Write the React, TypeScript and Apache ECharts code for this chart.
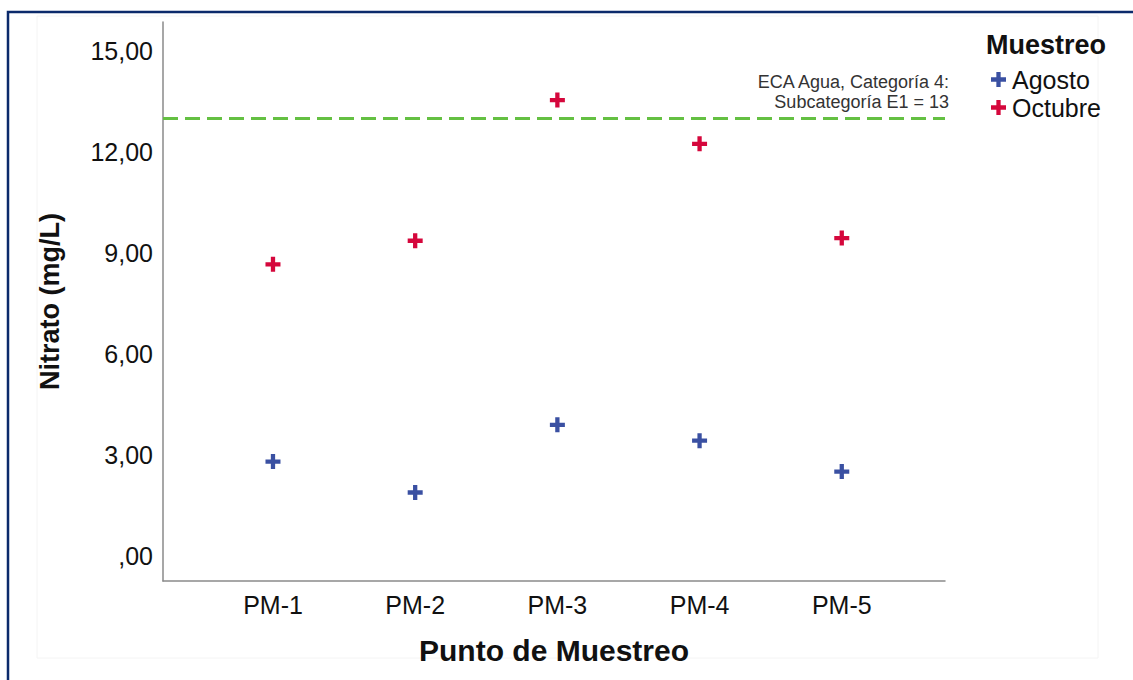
import React, { useEffect, useRef } from "react";
import * as echarts from "echarts";

const categories = ["PM-1", "PM-2", "PM-3", "PM-4", "PM-5"];
const agosto = [2.8, 1.88, 3.89, 3.42, 2.5];
const octubre = [8.66, 9.36, 13.54, 12.24, 9.44];
const yTicks = [0, 3, 6, 9, 12, 15];
const ecaLimit = 13;
const ecaLabel = "ECA Agua, Categoría 4:\nSubcategoría E1 = 13";

const PLUS = "path://M5,0H9V5H14V9H9V14H5V9H0V5H5Z";
const FONT = "Liberation Sans, Arial, sans-serif";

function fmtY(v: number) {
  const s = v.toFixed(2).replace(".", ",");
  return v === 0 ? ",00" : s;
}

export default function App() {
  const ref = useRef<HTMLDivElement>(null);
  useEffect(() => {
    if (!ref.current) return;
    const chart = echarts.init(ref.current, null, { renderer: "svg" });
    chart.setOption({
      animation: false,
      backgroundColor: "#ffffff",
      textStyle: { fontFamily: FONT },
      title: {
        text: "Muestreo",
        left: 981,
        top: 26,
        textStyle: { fontFamily: FONT, fontSize: 27, fontWeight: "bold", color: "#111" },
      },
      legend: {
        orient: "vertical",
        left: 986,
        top: 62,
        itemGap: 3,
        itemWidth: 15,
        itemHeight: 15,
        textStyle: { fontFamily: FONT, fontSize: 25, color: "#111", padding: [0, 0, 0, 1] },
        data: [
          { name: "Agosto", icon: PLUS },
          { name: "Octubre", icon: PLUS },
        ],
      },
      graphic: [
        {
          type: "rect",
          silent: true,
          shape: { x: 37, y: 16, width: 1061, height: 642 },
          style: { fill: "none", stroke: "#f4f4f4", lineWidth: 1 },
        },
        {
          type: "rect",
          silent: true,
          shape: { x: 8, y: 12, width: 1200, height: 720 },
          style: { fill: "none", stroke: "#0b2a6b", lineWidth: 2.5 },
        },
      ],
      grid: {
        left: 163,
        right: 188,
        top: 22,
        bottom: 99,
        outerBoundsMode: "none",
      },
      xAxis: {
        type: "value",
        min: 0.2265,
        max: 5.726,
        name: "Punto de Muestreo",
        nameLocation: "middle",
        nameGap: 54,
        nameTextStyle: { fontFamily: FONT, fontSize: 30, fontWeight: "bold", color: "#111" },
        axisLine: { show: true, onZero: false, lineStyle: { color: "#8a8a8a", width: 1.5 } },
        axisTick: { show: false },
        splitLine: { show: false },
        axisLabel: {
          customValues: [1, 2, 3, 4, 5],
          formatter: (v: number) => categories[Math.round(v) - 1] ?? "",
          margin: 11,
          fontFamily: FONT,
          fontSize: 25,
          color: "#111",
        },
      },
      yAxis: {
        type: "value",
        min: -0.75,
        max: 15.86,
        name: "Nitrato (mg/L)",
        nameLocation: "middle",
        nameGap: 100,
        nameTextStyle: { fontFamily: FONT, fontSize: 27, fontWeight: "bold", color: "#111" },
        axisLine: { show: true, onZero: false, lineStyle: { color: "#8a8a8a", width: 1.5 } },
        axisTick: { show: false },
        splitLine: { show: false },
        axisLabel: {
          customValues: yTicks,
          formatter: (v: number) => fmtY(v),
          margin: 10,
          fontFamily: FONT,
          fontSize: 25,
          color: "#111",
        },
      },
      series: [
        {
          name: "Agosto",
          type: "scatter",
          symbol: PLUS,
          symbolSize: 15,
          itemStyle: { color: "#3a50a2", opacity: 1 },
          data: categories.map((_, i) => [i + 1, agosto[i]]),
          markLine: {
            silent: true,
            symbol: "none",
            lineStyle: { type: [15, 7], color: "#64c042", width: 3 },
            label: {
              show: true,
              position: "insideEndTop",
              formatter: ecaLabel,
              align: "right",
              fontFamily: FONT,
              fontSize: 18,
              lineHeight: 20,
              color: "#333",
              distance: [-4, 6],
            },
            data: [{ yAxis: ecaLimit }],
          },
        },
        {
          name: "Octubre",
          type: "scatter",
          symbol: PLUS,
          symbolSize: 15,
          itemStyle: { color: "#d5073c", opacity: 1 },
          data: categories.map((_, i) => [i + 1, octubre[i]]),
        },
      ],
    });
    return () => chart.dispose();
  }, []);
  return (
    <div
      ref={ref}
      style={{ position: "absolute", left: 0, top: 0, width: 1133, height: 680 }}
    />
  );
}
